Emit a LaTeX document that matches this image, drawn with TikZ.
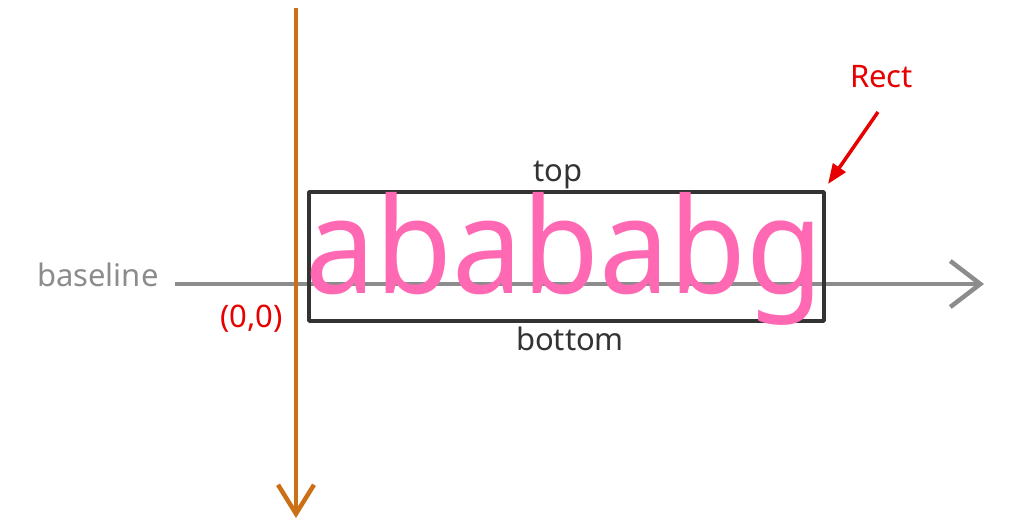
\documentclass[tikz,border=0pt]{standalone}
\usepackage{fontspec}
\setmainfont{Noto Sans}
\usetikzlibrary{arrows.meta}
\definecolor{axisorange}{RGB}{204,112,24}
\definecolor{axisgray}{RGB}{140,140,140}
\definecolor{boxgray}{RGB}{51,51,51}
\definecolor{pinktext}{RGB}{255,105,180}
\definecolor{redtext}{RGB}{230,0,0}
\begin{document}
\begin{tikzpicture}[x=1pt,y=-1pt,
  lbl/.style={inner sep=0pt,font=\fontsize{31}{34}\selectfont}]
\useasboundingbox (0,0) rectangle (1013,532);
% axes
\coordinate (vtop) at (296,8);
\coordinate (vbot) at (296,518);
\coordinate (hleft) at (175,284);
\coordinate (hright) at (984,284);
\draw[axisgray,line width=4.5pt,-{Straight Barb[length=30pt,width=46pt,line width=4.5pt]}] (hleft) -- (hright);
% box
\draw[boxgray,line width=3.5pt,line join=round] (309,192) rectangle (824,321);
\node[inner sep=0pt,anchor=base west,text=pinktext,font=\fontsize{133}{140}\selectfont,xscale=0.94] (word) at (305,293) {abababg};
\draw[axisorange,line width=4.5pt,-{Straight Barb[length=29pt,width=36pt,line width=4.5pt]}] (vtop) -- (vbot);
% labels
\node[lbl,text=boxgray,anchor=base] (top) at (558,182) {top};
\node[lbl,text=boxgray,anchor=base] (bottom) at (570,350) {bottom};
\node[lbl,text=axisgray,anchor=base west] (baseline) at (37,287) {baseline};
\node[lbl,text=redtext,anchor=base west] (origin) at (220,327) {(0,0)};
\node[lbl,text=redtext,anchor=base west] (rect) at (850,88) {Rect};
\coordinate (rtail) at (878,112);
\coordinate (rhead) at (828,184);
\draw[redtext,line width=3.5pt,-{Triangle[length=20pt,width=15pt]}] (rtail) -- (rhead);
\end{tikzpicture}
\end{document}
